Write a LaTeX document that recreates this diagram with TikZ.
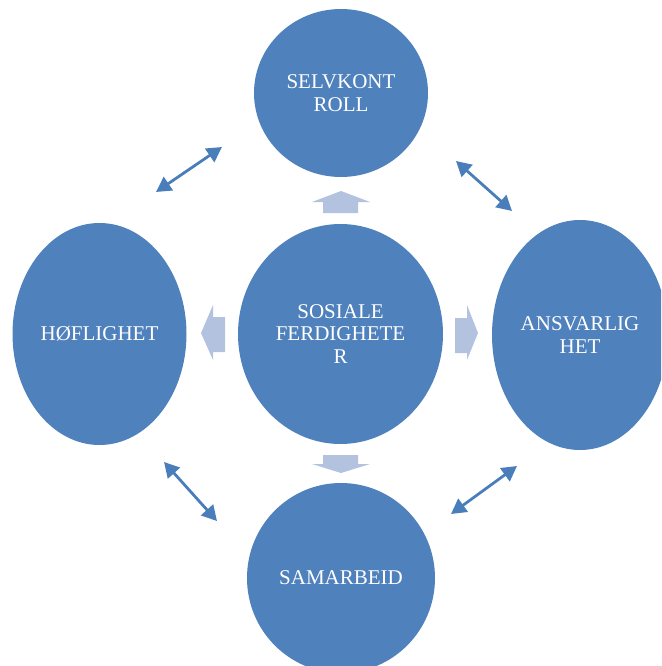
\documentclass[tikz,border=0pt]{standalone}
\usepackage{fontspec}
\setmainfont{Liberation Serif}
\usetikzlibrary{shapes.geometric,arrows.meta}
\definecolor{blob}{HTML}{4F81BD}
\definecolor{blockarrow}{HTML}{B3C3DF}
\definecolor{dbl}{HTML}{4A7EBB}
\tikzset{
  blobnode/.style={ellipse, fill=blob, draw=none, inner sep=0pt, text=white,
    align=center, font=\fontsize{21}{22.5}\selectfont},
  blockfill/.style={fill=blockarrow, draw=none},
  dblarrow/.style={draw=dbl, line width=2.8pt,
    {Triangle[length=15pt,width=16pt]}-{Triangle[length=15pt,width=16pt]}}
}
\begin{document}
\begin{tikzpicture}[x=1pt,y=-1pt]
\useasboundingbox (0,0) rectangle (661,666);
\clip (0,0) rectangle (661,666);
% ellipses
\node[blobnode, minimum width=174pt, minimum height=168pt] (top) at (341,93) {SELVKONT\\ROLL};
\node[blobnode, minimum width=205pt, minimum height=220pt] (mid) at (340.5,334) {SOSIALE\\FERDIGHETE\\R};
\node[blobnode, minimum width=174pt, minimum height=222pt] (left) at (99.5,334) {HØFLIGHET};
\node[blobnode, minimum width=176pt, minimum height=230pt] (right) at (580,335) {ANSVARLIG\\HET};
\node[blobnode, minimum width=188pt, minimum height=190pt] (bottom) at (341,578) {SAMARBEID};
% block arrows
\fill[blockfill] (323,213) -- (323,202) -- (312,202) -- (341,191) -- (370,202) -- (358,202) -- (358,213) -- cycle;
\fill[blockfill] (225,317) -- (213,317) -- (213,305) -- (201,333) -- (213,360) -- (213,352) -- (225,352) -- cycle;
\fill[blockfill] (455,318) -- (467,318) -- (467,305) -- (478,333) -- (467,360) -- (467,353) -- (455,353) -- cycle;
\fill[blockfill] (323,455) -- (358,455) -- (358,464) -- (370,464) -- (341,473) -- (312,464) -- (323,464) -- cycle;
% double arrows
\coordinate (tl1) at (222,147);
\coordinate (tl2) at (156,192);
\coordinate (tr1) at (456,161);
\coordinate (tr2) at (512,211);
\coordinate (bl1) at (164,462);
\coordinate (bl2) at (217,521);
\coordinate (br1) at (517,466);
\coordinate (br2) at (451,514);
\draw[dblarrow] (tl1) -- (tl2);
\draw[dblarrow] (tr1) -- (tr2);
\draw[dblarrow] (bl1) -- (bl2);
\draw[dblarrow] (br1) -- (br2);
\end{tikzpicture}
\end{document}
